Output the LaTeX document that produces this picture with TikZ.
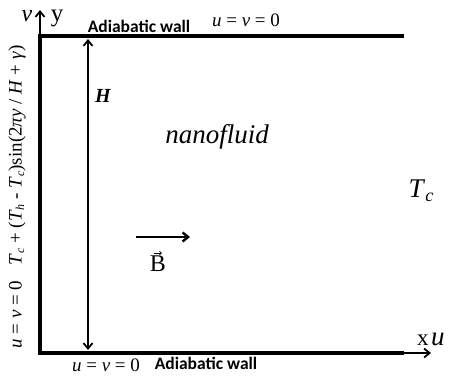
\documentclass[tikz,border=0pt]{standalone}
\usepackage{fontspec}
\setmainfont{Liberation Serif}
\newfontfamily\calib{Carlito}
\usetikzlibrary{arrows.meta}
\newcommand{\ii}[1]{\textit{#1}}
\begin{document}
\begin{tikzpicture}[x=1pt,y=-1pt,
  wall/.style={line width=4pt},
  axisarrow/.style={line width=1.8pt,-{Straight Barb[length=5.5pt,width=9pt]}},
  dimarrow/.style={line width=1.8pt,{Straight Barb[length=5.5pt,width=9pt]}-{Straight Barb[length=5.5pt,width=9pt]}},
  walltxt/.style={font=\calib\bfseries\fontsize{17.5}{19}\selectfont},
  mtxt/.style={font=\fontsize{19}{21}\selectfont}]
\useasboundingbox (0,0) rectangle (449,378);
\coordinate (TL) at (40,36);
\coordinate (TR) at (404,36);
\coordinate (BL) at (40,353);
\coordinate (BR) at (404,353);
\coordinate (Xend) at (431,353);
\coordinate (Yend) at (40,10);
\coordinate (Htop) at (88,39);
\coordinate (Hbot) at (88,350);
\coordinate (Bs) at (136,237);
\coordinate (Be) at (190,237);
\draw[wall] (TR) -- (TL) -- (BL) -- (BR);
\draw[axisarrow] (BR) -- (Xend);
\draw[axisarrow] (TL) -- (Yend);
\draw[dimarrow] (Htop) -- (Hbot);
\draw[axisarrow,line width=2.4pt] (Bs) -- (Be);
\node[font=\itshape\fontsize{24}{26}\selectfont,anchor=base] (v) at (27,21) {v};
\node[font=\fontsize{25}{27}\selectfont,anchor=base] (y) at (57,21) {y};
\node[walltxt] (aw1) at (139,26) {Adiabatic wall};
\node[mtxt] (uv1) at (246,20) {\ii{u} = \ii{v} = 0};
\node[mtxt] (uv2) at (106,365) {\ii{u} = \ii{v} = 0};
\node[walltxt] (aw2) at (206,363) {Adiabatic wall};
\node[font=\bfseries\itshape\fontsize{20}{22}\selectfont] (H) at (103,96) {H};
\node[font=\itshape\fontsize{27}{29}\selectfont] (nf) at (217,137) {nanofluid};
\node[font=\fontsize{27}{29}\selectfont] (Tc) at (421,191) {\ii{T}\raisebox{-0.35ex}{\fontsize{18}{19}\selectfont\ii{c}}};
\node[font=\fontsize{24}{26}\selectfont] (B) at (158,264) {B};
\draw[line width=0.7pt,-{Straight Barb[length=2pt,width=3.5pt]}] ([xshift=-4pt,yshift=11pt]B.center) -- ([xshift=4pt,yshift=11pt]B.center);
\node[font=\fontsize{23}{25}\selectfont,anchor=base west,inner sep=0pt] (x) at (417,345) {x};
\node[font=\itshape\fontsize{27}{29}\selectfont,anchor=base west,inner sep=0pt] (u) at (431,345) {u};
\node[mtxt,rotate=90] (left) at (17,197) {\ii{u} = \ii{v} = 0\;\; \ii{T}\raisebox{-0.3ex}{\fontsize{12}{13}\selectfont\ii{c}} + (\ii{T}\raisebox{-0.3ex}{\fontsize{12}{13}\selectfont\ii{h}} - \ii{T}\raisebox{-0.3ex}{\fontsize{12}{13}\selectfont\ii{c}})sin(2\ii{πy} / \ii{H} + \ii{γ})};
\end{tikzpicture}
\end{document}
